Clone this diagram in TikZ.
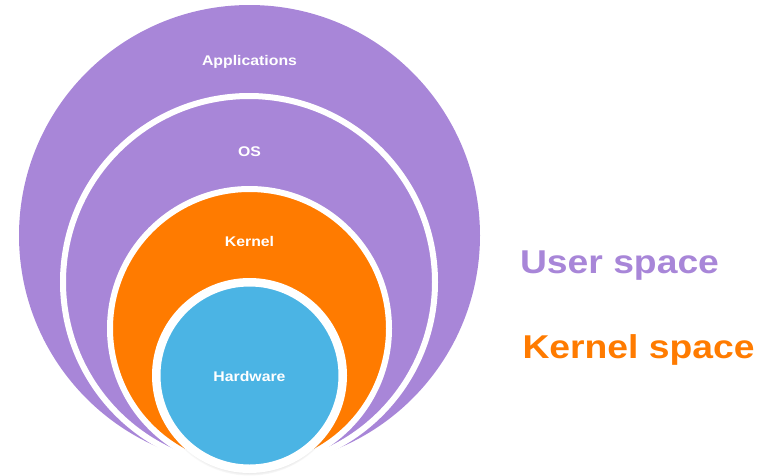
\documentclass[tikz,border=0pt]{standalone}
\usepackage{fontspec}
\setmainfont{Liberation Sans}
\newfontfamily\widesans[FakeStretch=1.13]{Liberation Sans}
\usetikzlibrary{positioning, shadows}

\definecolor{layerpurple}{RGB}{168,134,216}
\definecolor{layerorange}{RGB}{255,123,0}
\definecolor{layerblue}{RGB}{75,180,228}

\begin{document}
\begin{tikzpicture}[x=1pt, y=-1pt,
    layer/.style={circle, draw=white, inner sep=0pt},
    tag/.style={text=white, anchor=base, font=\widesans\bfseries\fontsize{14}{16}\selectfont},
    spacetext/.style={anchor=base west, font=\widesans\bfseries\fontsize{33}{37}\selectfont}
]
\useasboundingbox (0,0) rectangle (760,475);

% nested layers, all touching at the bottom
\node[layer, fill=layerpurple, draw=none, minimum size=461pt] (apps) at (249.5,235.5) {};
\node[layer, fill=layerpurple, line width=6pt, minimum size=372pt] (os) at (249,282) {};
\node[layer, fill=layerorange, line width=6pt, minimum size=279pt] (kernel) at (249.5,328.5) {};
\node[layer, fill=layerblue, line width=8.5pt, minimum size=186.5pt,
      circular drop shadow={shadow scale=1.02, shadow xshift=0pt, shadow yshift=-5pt, opacity=0.7}] (hw) at (249.5,375.5) {};

\node[tag] (appslabel) at (249.5,65.5) {Applications};
\node[tag] (oslabel) at (249.5,156) {OS};
\node[tag] (kernellabel) at (249.5,246) {Kernel};
\node[tag] (hwlabel) at (249.5,381) {Hardware};

\node[spacetext, text=layerpurple] (user) at (516.5,273) {User space};
\node[spacetext, text=layerorange] (kspace) at (519,358) {Kernel space};

\end{tikzpicture}
\end{document}
